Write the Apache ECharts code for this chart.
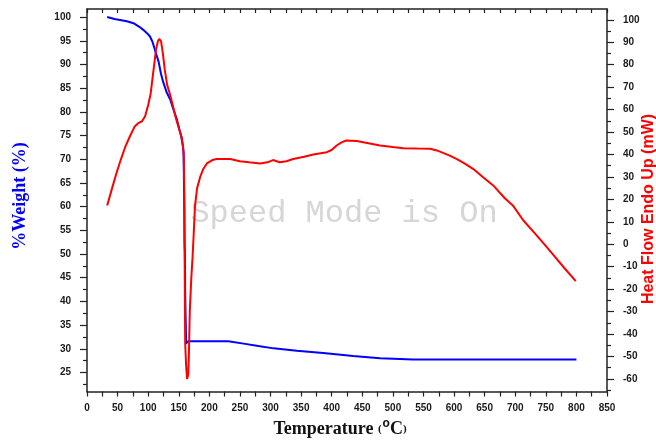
<!DOCTYPE html>
<html>
<head>
<meta charset="utf-8">
<script src="https://cdn.jsdelivr.net/npm/echarts@6/dist/echarts.min.js"></script>
<style>
  html, body { margin: 0; padding: 0; background: #fff; }
  #chart { width: 656px; height: 443px; }
</style>
</head>
<body>
<div id="chart"></div>
<script>
// TGA weight loss (blue, left axis)
const weightTemp = [33, 45, 54, 65, 76, 85, 92, 98, 103, 107, 111, 114, 117, 121, 125, 130, 136, 141, 147, 151, 154, 157, 158, 158.5, 159, 159.5, 160, 160.5, 161, 161.5, 162, 165, 200, 231, 256, 280, 305, 343, 386, 435, 479, 533, 650, 800]
const weightPct = [100, 99.6, 99.4, 99.1, 98.7, 98, 97.3, 96.6, 95.9, 94.8, 93.1, 91.8, 90.6, 88, 86.1, 84.2, 82.6, 80.6, 78.4, 76.3, 74.8, 72.6, 70.8, 65, 60, 52, 50.5, 42, 38, 35, 31.1, 31.6, 31.6, 31.6, 31.1, 30.6, 30.1, 29.6, 29.1, 28.5, 28.0, 27.75, 27.75, 27.75]

// DSC heat flow (red, right axis)
const heatTemp = [33, 40, 48, 55, 62, 70, 78, 84, 90, 95, 100, 104, 108, 113, 116, 118, 121, 124, 127, 131, 136, 141, 146, 151, 155, 158, 159, 159.5, 160, 160.5, 162, 163.5, 164.5, 165.5, 166.5, 168, 170.5, 172.5, 174.5, 176.5, 180, 185, 190, 196, 205, 212, 234, 250, 265, 283, 295, 304, 315, 326, 337, 355, 370, 392, 400, 408, 417, 424, 441, 460, 479, 500, 517, 540, 561, 572, 582, 593, 604, 617, 631, 647, 664, 683, 697, 713, 730, 746, 765, 781, 799]
const heatFlow = [17.3, 24, 31.5, 37.5, 43, 48, 52.5, 54, 54.8, 57, 62, 67, 76, 87, 90.5, 91.5, 90.5, 85, 78, 71, 66.5, 61, 55.5, 51, 47.5, 41, 25, 0, -25, -44, -54, -60, -60.5, -58, -50, -30, -15, -6, 5, 17, 25, 30, 33.5, 36, 37.5, 38, 38, 37, 36.5, 36, 36.5, 37.5, 36.5, 37, 38, 39, 40, 41, 42, 44, 45.5, 46.2, 46, 45, 44, 43.3, 42.8, 42.6, 42.5, 41.8, 40.7, 39.5, 38, 36, 33.6, 30, 26.2, 20.5, 17, 10.7, 5.5, 0.5, -5.6, -10.8, -16.4]

const xTicks = [0, 50, 100, 150, 200, 250, 300, 350, 400, 450, 500, 550, 600, 650, 700, 750, 800, 850]
const weightTicks = [25, 30, 35, 40, 45, 50, 55, 60, 65, 70, 75, 80, 85, 90, 95, 100]
const weightMinor = [22.5, 27.5, 32.5, 37.5, 42.5, 47.5, 52.5, 57.5, 62.5, 67.5, 72.5, 77.5, 82.5, 87.5, 92.5, 97.5]
const heatTicks = [-60, -50, -40, -30, -20, -10, 0, 10, 20, 30, 40, 50, 60, 70, 80, 90, 100]
const heatMinor = [-65, -55, -45, -35, -25, -15, -5, 5, 15, 25, 35, 45, 55, 65, 75, 85, 95]

const weightRange = [21.0, 101.7]
const heatRange = [-65.6, 104.8]

const axisColor = '#222'
const labelStyle = {
  color: '#1a1a1a',
  fontSize: 10,
  fontWeight: 'bold',
  fontFamily: 'Liberation Sans, Arial, sans-serif'
}

const chart = echarts.init(document.getElementById('chart'))

function yAxis(pos, range, ticks, minor, withLabels) {
  return {
    type: 'value',
    position: pos,
    min: range[0],
    max: range[1],
    axisLine: { show: withLabels, onZero: false, lineStyle: { color: axisColor, width: 1.5 } },
    axisTick: {
      show: true,
      length: withLabels ? 7 : 4,
      customValues: withLabels ? ticks : minor,
      lineStyle: { color: axisColor, width: 1.2 }
    },
    axisLabel: withLabels
      ? Object.assign({ show: true, margin: 16, customValues: ticks }, labelStyle)
      : { show: false },
    splitLine: { show: false }
  }
}

const option = {
  animation: false,
  grid: { left: 87, right: 49, top: 9, height: 382.5 },
  xAxis: [
    {
      type: 'value',
      position: 'bottom',
      min: xTicks[0],
      max: xTicks[xTicks.length - 1],
      interval: 50,
      axisLine: { onZero: false, lineStyle: { color: axisColor, width: 1.5 } },
      axisTick: { length: 5, lineStyle: { color: axisColor, width: 1.2 } },
      minorTick: { show: true, splitNumber: 2, length: 5, lineStyle: { color: axisColor, width: 1.2 } },
      axisLabel: Object.assign({ margin: 12, showMinLabel: true, showMaxLabel: true }, labelStyle),
      splitLine: { show: false }
    },
    {
      type: 'value',
      position: 'top',
      min: xTicks[0],
      max: xTicks[xTicks.length - 1],
      interval: 25,
      axisLine: { onZero: false, lineStyle: { color: axisColor, width: 1.5 } },
      axisTick: { inside: true, length: 4, lineStyle: { color: axisColor, width: 1.2 } },
      axisLabel: { show: false },
      splitLine: { show: false }
    }
  ],
  yAxis: [
    yAxis('left', weightRange, weightTicks, weightMinor, true),
    yAxis('right', heatRange, heatTicks, heatMinor, true),
    yAxis('left', weightRange, weightTicks, weightMinor, false),
    yAxis('right', heatRange, heatTicks, heatMinor, false)
  ],
  graphic: [
    {
      type: 'text',
      x: 344,
      y: 214,
      z: 0,
      style: {
        text: 'Speed Mode is On',
        fill: '#d6d6d6',
        font: '32px "Liberation Mono", "Courier New", monospace',
        textAlign: 'center',
        textVerticalAlign: 'middle'
      }
    },
    {
      type: 'text',
      x: 20,
      y: 196,
      rotation: Math.PI / 2,
      style: {
        text: '%Weight (%)',
        fill: '#0000ff',
        font: 'bold 18px "Liberation Serif", "Times New Roman", serif',
        textAlign: 'center',
        textVerticalAlign: 'middle'
      }
    },
    {
      type: 'text',
      x: 649,
      y: 209,
      rotation: Math.PI / 2,
      style: {
        text: 'Heat Flow Endo Up (mW)',
        fill: '#ff0000',
        font: 'bold 16px "Liberation Sans", Arial, sans-serif',
        textAlign: 'center',
        textVerticalAlign: 'middle'
      }
    },
    {
      type: 'text',
      x: 340,
      y: 441,
      style: {
        text: '{t|Temperature }{p|(}{s|o}{c|C}{p|)}',
        textAlign: 'center',
        textVerticalAlign: 'bottom',
        rich: {
          t: { font: 'bold 18px "Liberation Serif", "Times New Roman", serif', fill: '#111' },
          p: { font: 'bold 11px "Liberation Serif", "Times New Roman", serif', fill: '#111' },
          s: { font: 'bold 12px "Liberation Sans", Arial, sans-serif', fill: '#111', padding: [0, 0, 11, 1] },
          c: { font: 'bold 18px "Liberation Serif", "Times New Roman", serif', fill: '#111' }
        }
      }
    }
  ],
  series: [
    {
      name: '%Weight',
      type: 'line',
      xAxisIndex: 0,
      yAxisIndex: 0,
      showSymbol: false,
      z: 3,
      lineStyle: { color: '#0000ff', width: 2 },
      itemStyle: { color: '#0000ff' },
      data: weightTemp.map((t, i) => [t, weightPct[i]])
    },
    {
      name: 'Heat Flow',
      type: 'line',
      xAxisIndex: 0,
      yAxisIndex: 1,
      showSymbol: false,
      z: 4,
      lineStyle: { color: '#ff0000', width: 2 },
      itemStyle: { color: '#ff0000' },
      data: heatTemp.map((t, i) => [t, heatFlow[i]])
    }
  ]
}

chart.setOption(option)
</script>
</body>
</html>
